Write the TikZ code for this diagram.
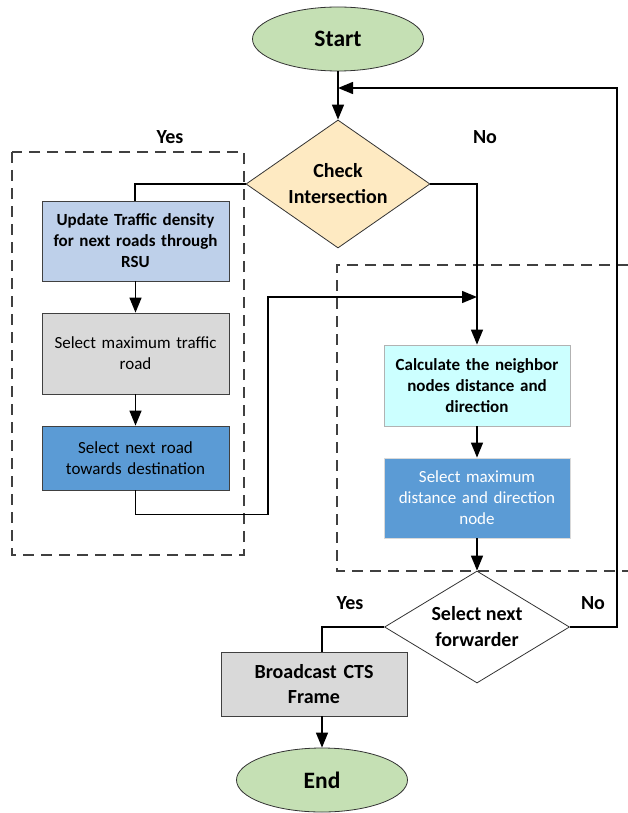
\documentclass[tikz,border=0pt]{standalone}
\usepackage{fontspec}
\setmainfont{Carlito}
\usetikzlibrary{arrows.meta,shapes.geometric}
\definecolor{termgreen}{RGB}{197,224,180}
\definecolor{decyellow}{RGB}{254,234,194}
\definecolor{paleblue}{RGB}{190,208,234}
\definecolor{midblue}{RGB}{91,155,213}
\definecolor{palecyan}{RGB}{204,255,255}
\definecolor{boxgrey}{RGB}{217,217,217}
\tikzset{
  terminal/.style={ellipse,draw=black!80,line width=0.8pt,fill=termgreen,minimum width=171pt,minimum height=64pt,inner sep=0pt,font=\fontsize{23.5}{28}\selectfont\bfseries},
  decision/.style={diamond,draw=black!80,line width=0.8pt,inner sep=0pt,align=center,font=\fontsize{20}{26}\selectfont\bfseries},
  process/.style={rectangle,draw=black!75,line width=0.8pt,inner sep=0pt,align=center,font=\fontsize{17}{21}\selectfont},
  flow/.style={line width=1.4pt,-{Triangle[length=15pt,width=12pt]}},
  link/.style={line width=1.4pt},
  group/.style={dash pattern=on 11pt off 7pt,draw=black!75,line width=1.3pt},
  answer/.style={font=\fontsize{20}{24}\selectfont\bfseries}
}
\begin{document}
\begin{tikzpicture}[x=1pt,y=-1pt]
\useasboundingbox (0,0) rectangle (628,813);
% dashed groups
\draw[group] (12,152) rectangle (244,555);
\draw[group] (628,265) -- (337,265) -- (337,571) -- (628,571);
% start and check
\node[terminal] (start) at (338,39) {Start};
\node[decision,fill=decyellow,aspect=1.44,minimum width=184pt,minimum height=128pt] (check) at (338,184) {Check\\Intersection};
% yes branch
\node[process,fill=paleblue,minimum width=187pt,minimum height=80pt,font=\fontsize{17}{21}\selectfont\bfseries,text width=180pt] (update) at (135.5,241) {Update Traffic density\\for next roads through\\RSU};
\node[process,fill=boxgrey,minimum width=187pt,minimum height=81pt,text width=180pt] (maxroad) at (135.5,353.5) {Select maximum traffic\\road};
\node[process,fill=midblue,minimum width=187pt,minimum height=64pt,text width=180pt] (nextroad) at (135.5,458) {Select next road\\towards destination};
% no branch
\node[process,fill=palecyan,draw=black!30,minimum width=186pt,minimum height=81pt,font=\fontsize{17}{21}\selectfont\bfseries,text width=180pt] (calc) at (477,385.5) {Calculate the neighbor\\nodes distance and\\direction};
\node[process,fill=midblue,draw=black!15,text=white,minimum width=186pt,minimum height=80pt,text width=180pt] (maxdist) at (477,498) {Select maximum\\distance and direction\\node};
% forwarder and end
\node[decision,fill=white,aspect=1.65,minimum width=185pt,minimum height=112pt] (fwd) at (477,627) {Select next\\forwarder};
\node[process,fill=boxgrey,minimum width=186pt,minimum height=64pt,font=\fontsize{20}{25}\selectfont\bfseries,text width=180pt] (cts) at (314,684) {Broadcast CTS\\Frame};
\node[terminal] (stop) at (322,780) {End};
\coordinate (merge) at (338,88);
\coordinate (join) at (477,297);
% labels
\node[answer] (yes1) at (170,137) {Yes};
\node[answer] (no1) at (485,137) {No};
\node[answer] (yes2) at (350,603) {Yes};
\node[answer] (no2) at (593,603) {No};
% connectors
\draw[flow] (start) -- (check.north);
\draw[link] (check.west) -| (update.north -| 135,0);
\draw[flow] (update) -- (maxroad);
\draw[flow] (maxroad) -- (nextroad);
\draw[flow] (nextroad.south) -- ++(0,24) -| (268,297) -- (join);
\draw[flow] (check.east) -| (calc.north);
\draw[flow] (calc) -- (maxdist);
\draw[flow] (maxdist) -- (fwd.north);
\draw[flow] (fwd.east) -| (617,88) -- (merge);
\draw[link] (fwd.west) -| (cts.north -| 322,0);
\draw[flow] (cts.south -| 322,0) -- (stop.north);
\end{tikzpicture}
\end{document}
